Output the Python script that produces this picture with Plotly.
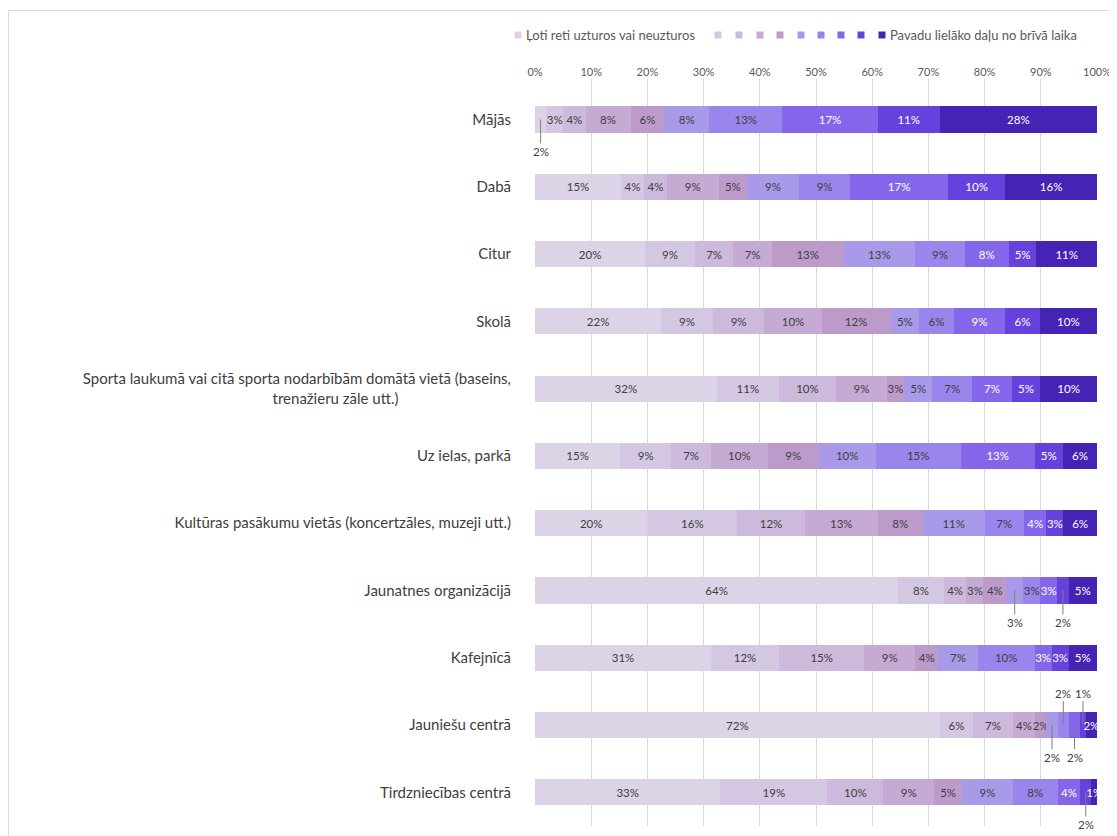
import plotly.graph_objects as go

categories = [
    "Mājās",
    "Dabā",
    "Citur",
    "Skolā",
    "Sporta laukumā vai citā sporta nodarbībām domātā vietā (baseins,<br>trenažieru zāle utt.)" + "\u2003" * 10,
    "Uz ielas, parkā",
    "Kultūras pasākumu vietās (koncertzāles, muzeji utt.)",
    "Jaunatnes organizācijā",
    "Kafejnīcā",
    "Jauniešu centrā",
    "Tirdzniecības centrā",
]

# rows: share of each scale level (1 = very rarely ... 10 = most of free time)
vals_majas = [2, 3, 4, 8, 6, 8, 13, 17, 11, 28]
vals_daba = [15, 4, 4, 9, 5, 9, 9, 17, 10, 16]
vals_citur = [20, 9, 7, 7, 13, 13, 9, 8, 5, 11]
vals_skola = [22, 9, 9, 10, 12, 5, 6, 9, 6, 10]
vals_sporta = [32, 11, 10, 9, 3, 5, 7, 7, 5, 10]
vals_iela = [15, 9, 7, 10, 9, 10, 15, 13, 5, 6]
vals_kultura = [20, 16, 12, 13, 8, 11, 7, 4, 3, 6]
vals_jaunatnes = [64, 8, 4, 3, 4, 3, 3, 3, 2, 5]
vals_kafejnica = [31, 12, 15, 9, 4, 7, 10, 3, 3, 5]
vals_jauniesu = [72, 6, 7, 4, 2, 2, 2, 2, 1, 2]
vals_tirdz = [33, 19, 10, 9, 5, 9, 8, 4, 2, 1]

rows = [vals_majas, vals_daba, vals_citur, vals_skola, vals_sporta, vals_iela,
        vals_kultura, vals_jaunatnes, vals_kafejnica, vals_jauniesu, vals_tirdz]

series_names = ["Ļoti reti uzturos vai neuzturos", "", "", "", "", "", "", "", "",
                "Pavadu lielāko daļu no brīvā laika"]

colors = ["#DCD3E7", "#D4C7E1", "#CCB9DB", "#C5AAD4", "#BC9BCA",
          "#A89AE9", "#9985EC", "#8366EA", "#6642DD", "#4524B5"]
text_colors = ["#404040"] * 7 + ["#FFFFFF"] * 3

# labels placed outside the bar with a leader line: (row index, segment index, direction)
callouts = [(0, 0, 1), (7, 5, 1), (7, 8, 1), (9, 5, 1), (9, 6, -1), (9, 7, 1),
            (9, 8, -1), (10, 8, 1)]
callout_set = {(r, s) for r, s, _ in callouts}

# the page body adds an 8px offset; layout is expressed in screen pixels
OFF = 8
W, H = 1117 - OFF, 836 - OFF
PLOT_L, PLOT_R, PLOT_T, PLOT_B = 535, 1097, 79, 826   # screen px
ML, MR = PLOT_L - OFF, (W + OFF) - PLOT_R
MT, MB = PLOT_T - OFF, (H + OFF) - PLOT_B
PW, PH = W - ML - MR, H - MT - MB


def px_x(px):
    return (px - PLOT_L) / PW


def px_y(py):
    return 1 - (py - PLOT_T) / PH


fig = go.Figure()
for s in range(10):
    xs = []
    texts = []
    for r, row in enumerate(rows):
        xs.append(row[s] / sum(row) * 100)
        texts.append("" if (r, s) in callout_set else f"{row[s]}%")
    fig.add_trace(go.Bar(
        y=categories, x=xs, orientation="h", name=series_names[s] if series_names[s] else " ",
        marker=dict(color=colors[s], line=dict(width=0)),
        text=texts, textposition="inside", insidetextanchor="middle", textangle=0,
        textfont=dict(color=text_colors[s], size=11.5, family="Lato"),
        hoverinfo="skip", showlegend=False,
    ))

for r, s, d in callouts:
    row = rows[r]
    tot = sum(row)
    start = sum(row[:s]) / tot * 100
    center = start + row[s] / tot * 100 / 2
    fig.add_annotation(
        x=center, y=categories[r], xref="x", yref="y",
        text=f"{row[s]}%", showarrow=True, arrowhead=0, arrowwidth=1,
        arrowcolor="#7F7F7F", ax=0, ay=32 * d, standoff=0,
        font=dict(size=11.5, color="#404040", family="Lato"),
    )

# custom one-line legend
legend_sq_px = [518, 718, 739, 760, 780, 801, 821, 841, 861, 882]
legend_y = px_y(35)
for s in range(10):
    cx = legend_sq_px[s]
    fig.add_shape(type="rect", xref="paper", yref="paper",
                  x0=px_x(cx - 3.5), x1=px_x(cx + 3.5),
                  y0=legend_y - 3.5 / PH, y1=legend_y + 3.5 / PH,
                  line=dict(width=0), fillcolor=colors[s])
fig.add_annotation(xref="paper", yref="paper", x=px_x(524), y=legend_y,
                   xanchor="left", yanchor="middle", showarrow=False,
                   text=series_names[0], font=dict(size=13, color="#595959"))
fig.add_annotation(xref="paper", yref="paper", x=px_x(888), y=legend_y,
                   xanchor="left", yanchor="middle", showarrow=False,
                   text=series_names[9], font=dict(size=13, color="#595959"))

# outer chart border
fig.add_shape(type="rect", xref="paper", yref="paper",
              x0=px_x(8.5), x1=px_x(1115), y0=px_y(900), y1=px_y(10.5),
              line=dict(color="#D9D9D9", width=1), fillcolor="rgba(0,0,0,0)")

fig.update_layout(
    width=W, height=H,
    barmode="stack",
    bargap=0.61,
    margin=dict(l=ML, r=MR, t=MT, b=MB, autoexpand=False),
    paper_bgcolor="white", plot_bgcolor="white",
    font=dict(family="Lato", color="#595959"),
    uniformtext=dict(minsize=10, mode="show"),
    showlegend=False,
    xaxis=dict(side="top", range=[0, 100], dtick=10, ticksuffix="%",
               showgrid=True, gridcolor="#D9D9D9", gridwidth=1, zeroline=False,
               showline=False, ticks="", tickfont=dict(size=11, color="#595959"),
               automargin=False, fixedrange=True),
    yaxis=dict(autorange="reversed", showgrid=False, showline=False, ticks="",
               ticklabelstandoff=23, tickfont=dict(size=15, color="#404040"),
               automargin=False, fixedrange=True),
)

fig.write_html("out.html")
